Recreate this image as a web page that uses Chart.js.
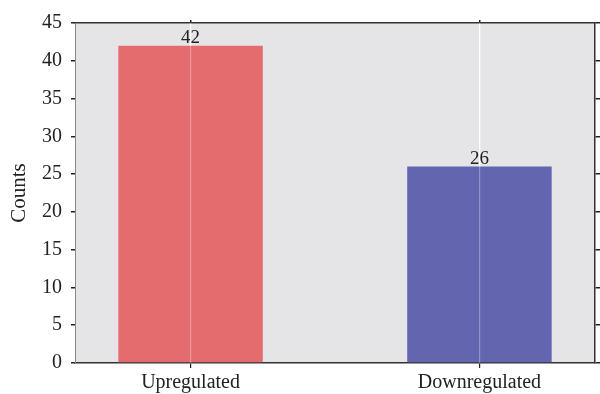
<!DOCTYPE html>
<html>
<head>
<meta charset="utf-8">
<script src="https://cdn.jsdelivr.net/npm/chart.js@4.4.1/dist/chart.umd.min.js"></script>
<style>
  html, body { margin: 0; padding: 0; background: #ffffff; }
  #wrap { width: 600px; height: 394px; position: relative; }
</style>
</head>
<body>
<div id="wrap"><canvas id="c" width="600" height="394"></canvas></div>
<script>
const categories = ['Upregulated', 'Downregulated'];
const counts = [42, 26];
const barColors = ['#e46c6f', '#6366ae'];
const yTicks = [0, 5, 10, 15, 20, 25, 30, 35, 40, 45];

const FONT = '"Liberation Serif", "DejaVu Serif", serif';
const INK = '#222222';

const bgPlugin = {
  id: 'bg',
  beforeDraw(chart) {
    const {ctx, chartArea: a} = chart;
    ctx.save();
    ctx.fillStyle = '#e5e5e7';
    ctx.fillRect(a.left, a.top, a.right - a.left, a.bottom - a.top);
    ctx.restore();
  }
};

const labelPlugin = {
  id: 'vals',
  afterDatasetsDraw(chart) {
    const {ctx} = chart;
    const meta = chart.getDatasetMeta(0);
    ctx.save();
    ctx.font = '19px ' + FONT;
    ctx.fillStyle = INK;
    ctx.textAlign = 'center';
    ctx.textBaseline = 'alphabetic';
    meta.data.forEach((el, i) => {
      ctx.fillText(String(counts[i]), el.x, el.y - 3);
    });
    ctx.restore();
  }
};

const points = categories.map((c, i) => ({x: i, y: counts[i]}));
const catTicks = (s) => { s.ticks = categories.map((c, i) => ({value: i})); };

new Chart(document.getElementById('c'), {
  type: 'bar',
  data: {
    datasets: [{
      data: points,
      backgroundColor: barColors,
      borderWidth: 0,
      barPercentage: 0.5,
      categoryPercentage: 1.0
    }]
  },
  options: {
    responsive: false,
    animation: false,
    events: [],
    layout: { padding: 0 },
    plugins: { legend: { display: false }, tooltip: { enabled: false } },
    scales: {
      x: {
        type: 'linear',
        position: 'bottom',
        offset: false,
        min: -0.4,
        max: 1.4,
        afterBuildTicks: catTicks,
        afterFit(s) { s.height = 31; },
        ticks: {
          callback: (v) => categories[v] !== undefined ? categories[v] : '',
          font: { family: FONT, size: 20 },
          color: INK,
          padding: 3,
          maxRotation: 0,
          autoSkip: false
        },
        grid: {
          offset: false,
          color: '#ffffff',
          lineWidth: 1.2,
          tickColor: INK,
          tickLength: 5,
          drawOnChartArea: true
        },
        border: { display: true, color: '#333333', width: 1.5 }
      },
      x3: {
        type: 'linear',
        position: 'bottom',
        offset: false,
        min: -0.4,
        max: 1.4,
        afterBuildTicks: catTicks,
        afterFit(s) { s.height = 0; },
        ticks: { display: false, autoSkip: false },
        grid: {
          z: 1,
          offset: false,
          color: 'rgba(255,255,255,0.3)',
          lineWidth: 1.2,
          drawTicks: false,
          drawOnChartArea: true
        },
        border: { display: false }
      },
      x2: {
        type: 'linear',
        position: 'top',
        offset: false,
        min: -0.4,
        max: 1.4,
        afterBuildTicks: catTicks,
        afterFit(s) { s.height = 23; },
        ticks: { display: false, autoSkip: false },
        grid: { offset: false, drawOnChartArea: false, tickColor: INK, tickLength: 3, lineWidth: 1.5 },
        border: { display: true, color: '#333333', width: 1.5 }
      },
      y: {
        position: 'left',
        min: 0,
        max: 45,
        afterBuildTicks(s) { s.ticks = yTicks.map(v => ({value: v})); },
        afterFit(s) { s.width = 75; },
        ticks: {
          font: { family: FONT, size: 20 },
          color: INK,
          padding: 9
        },
        title: {
          display: true,
          text: 'Counts',
          font: { family: FONT, size: 21 },
          color: INK,
          padding: { top: 7, bottom: 0 }
        },
        grid: { drawOnChartArea: false, tickColor: INK, tickLength: 4, lineWidth: 1.5 },
        border: { display: true, color: '#8a8a8a', width: 1 }
      },
      y2: {
        position: 'right',
        min: 0,
        max: 45,
        afterBuildTicks(s) { s.ticks = yTicks.map(v => ({value: v})); },
        afterFit(s) { s.width = 5; },
        ticks: { display: false },
        grid: { drawOnChartArea: false, tickColor: INK, tickLength: 5, lineWidth: 1.5 },
        border: { display: true, color: '#333333', width: 1.5 }
      }
    }
  },
  plugins: [bgPlugin, labelPlugin]
});
</script>
</body>
</html>
